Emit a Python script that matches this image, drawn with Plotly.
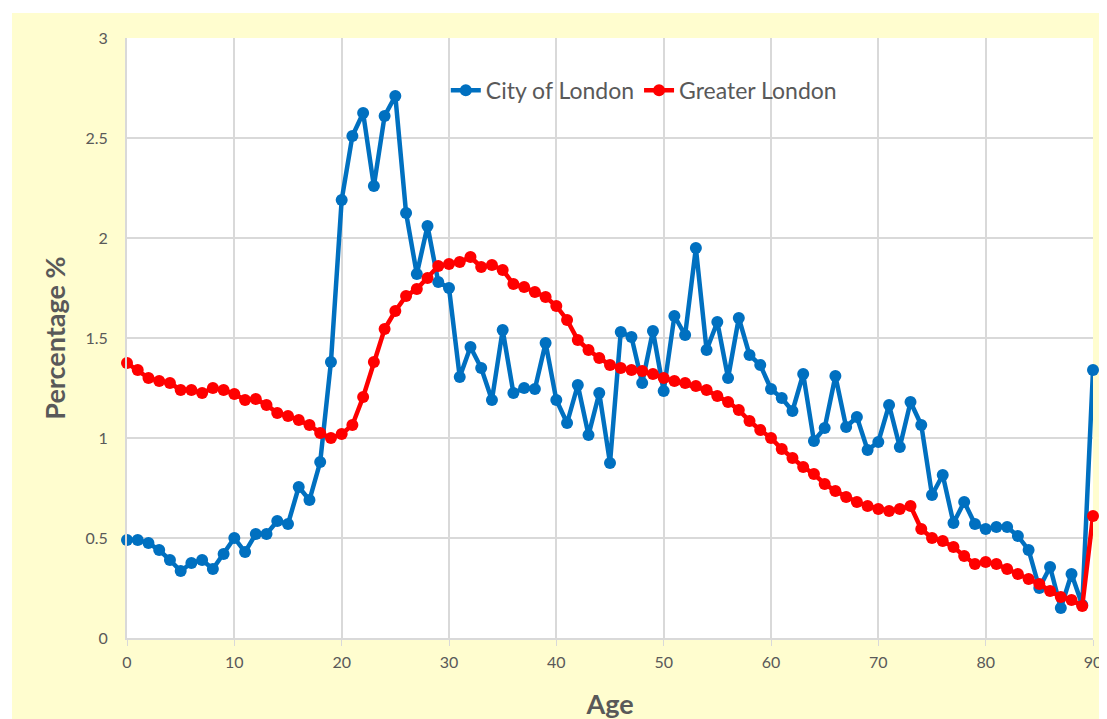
import plotly.graph_objects as go

ages = list(range(0, 91))
city_of_london = [
    0.49, 0.49, 0.475, 0.44, 0.39, 0.335, 0.375, 0.39, 0.345, 0.42,
    0.50, 0.43, 0.52, 0.52, 0.585, 0.57, 0.755, 0.69, 0.88, 1.38,
    2.19, 2.51, 2.625, 2.26, 2.61, 2.71, 2.125, 1.82, 2.06, 1.78,
    1.75, 1.305, 1.455, 1.35, 1.19, 1.54, 1.225, 1.25, 1.245, 1.475,
    1.19, 1.075, 1.265, 1.015, 1.225, 0.875, 1.53, 1.505, 1.275, 1.535,
    1.235, 1.61, 1.515, 1.95, 1.44, 1.58, 1.30, 1.60, 1.415, 1.365,
    1.245, 1.20, 1.135, 1.32, 0.985, 1.05, 1.31, 1.055, 1.105, 0.94,
    0.98, 1.165, 0.955, 1.18, 1.065, 0.715, 0.815, 0.575, 0.68, 0.57,
    0.545, 0.555, 0.555, 0.51, 0.44, 0.25, 0.355, 0.15, 0.32, 0.165,
    1.34,
]
greater_london = [
    1.375, 1.34, 1.30, 1.285, 1.275, 1.24, 1.24, 1.225, 1.25, 1.24,
    1.22, 1.19, 1.195, 1.165, 1.125, 1.11, 1.09, 1.065, 1.025, 1.00,
    1.02, 1.065, 1.205, 1.38, 1.545, 1.635, 1.71, 1.745, 1.80, 1.86,
    1.87, 1.88, 1.905, 1.855, 1.865, 1.84, 1.77, 1.755, 1.73, 1.705,
    1.66, 1.59, 1.49, 1.44, 1.40, 1.365, 1.35, 1.34, 1.335, 1.32,
    1.30, 1.285, 1.275, 1.26, 1.24, 1.21, 1.18, 1.14, 1.085, 1.04,
    1.00, 0.945, 0.90, 0.855, 0.82, 0.77, 0.735, 0.705, 0.68, 0.66,
    0.645, 0.635, 0.645, 0.66, 0.545, 0.50, 0.485, 0.455, 0.41, 0.37,
    0.38, 0.37, 0.345, 0.32, 0.295, 0.27, 0.235, 0.205, 0.19, 0.16,
    0.61,
]
x_ticks = [0, 10, 20, 30, 40, 50, 60, 70, 80, 90]
y_ticks = [0, 0.5, 1, 1.5, 2, 2.5, 3]
y_tick_text = ["0", "0.5", "1", "1.5", "2", "2.5", "3"]

FONT = "Lato, 'Open Sans', sans-serif"
GREY = "#595959"
YELLOW = "#FFFDCF"

fig = go.Figure()
fig.add_trace(go.Scatter(
    x=ages, y=city_of_london, name="City of London", mode="lines+markers",
    line=dict(color="#0070C0", width=4.5), marker=dict(color="#0070C0", size=12),
    cliponaxis=False,
))
fig.add_trace(go.Scatter(
    x=ages, y=greater_london, name="Greater London", mode="lines+markers",
    line=dict(color="#FF0000", width=4.5), marker=dict(color="#FF0000", size=12),
    cliponaxis=False,
))

# page body has an 8px offset; figure coords = screen coords - 8
W, H = 1107, 719
L, R, T, B = 119, 22, 30, 89
pw, ph = W - L - R, H - T - B

fig.update_layout(
    width=W, height=H,
    margin=dict(l=L, r=R, t=T, b=B),
    paper_bgcolor=YELLOW, plot_bgcolor="white",
    font=dict(family=FONT, color=GREY, size=15),
    showlegend=True,
    legend=dict(orientation="h", x=0.535, y=0.913, xanchor="center", yanchor="middle",
                bgcolor="rgba(255,255,255,0)", font=dict(size=23, color=GREY)),
    shapes=[
        dict(type="rect", xref="paper", yref="paper", layer="below",
             x0=-L / pw, x1=1 + R / pw, y0=1 + (T - 5) / ph, y1=1 + T / ph + 0.01,
             fillcolor="white", line=dict(width=0)),
        dict(type="rect", xref="paper", yref="paper", layer="below",
             x0=-L / pw - 0.01, x1=(4 - L) / pw, y0=-B / ph, y1=1 + T / ph,
             fillcolor="white", line=dict(width=0)),
    ],
    xaxis=dict(range=[0, 90], tickvals=x_ticks, showgrid=True, gridcolor="#D9D9D9",
               gridwidth=1.5, zeroline=False, showline=True, linecolor="#D9D9D9",
               linewidth=2, ticks="outside", tickcolor="#D9D9D9", ticklen=6,
               ticklabelstandoff=3, tickfont=dict(size=16, color=GREY),
               title=dict(text="<b>Age</b>", font=dict(size=27, color=GREY), standoff=25)),
    yaxis=dict(range=[0, 3], tickvals=y_ticks, ticktext=y_tick_text, showgrid=True,
               gridcolor="#D9D9D9", gridwidth=1.5, zeroline=False, showline=True,
               linecolor="#D9D9D9", linewidth=2, ticks="", ticklabelstandoff=14,
               tickfont=dict(size=16, color=GREY),
               title=dict(text="<b>Percentage %</b>", font=dict(size=27, color=GREY),
                          standoff=12)),
)

fig.write_html("out.html")
